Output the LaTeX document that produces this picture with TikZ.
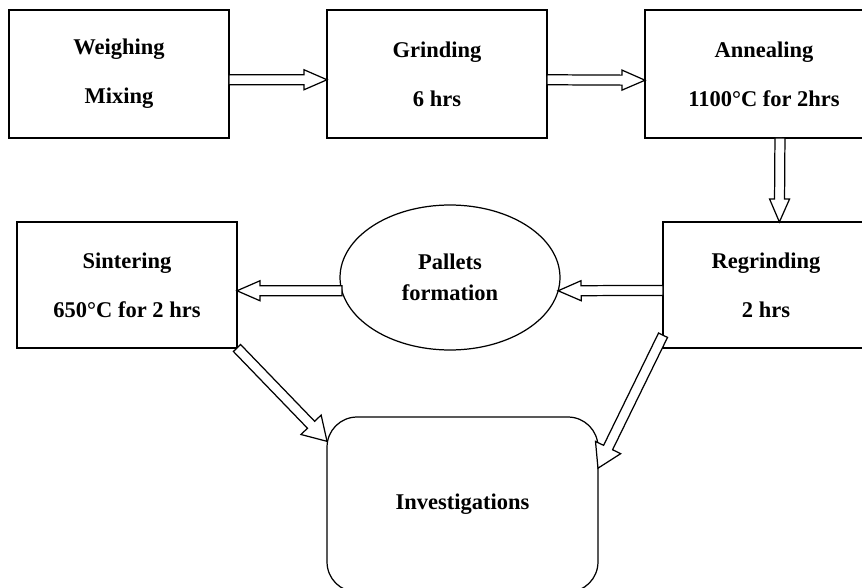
\documentclass[tikz,border=0pt]{standalone}
\usepackage{fontspec}
\setmainfont{Liberation Serif}
\usetikzlibrary{calc,shapes.geometric}

\tikzset{
  stage/.style={draw, line width=0.7pt, inner sep=0pt, outer sep=0pt, align=center,
    font=\bfseries\fontsize{12.8}{28}\selectfont},
  oval/.style={stage, ellipse, font=\bfseries\fontsize{12.8}{17.6}\selectfont},
  hollow/.style={draw, line width=0.7pt, fill=white, line join=miter}
}

% hollow block arrow: [head half width]{from}{to}
\newcommand{\hollowarrow}[3][0.2cm]{%
  \coordinate (ha) at (#2);
  \coordinate (hz) at (#3);
  \coordinate (hb) at ($(hz)!0.46cm!(ha)$);
  \draw[hollow] ($(ha)!0.1cm!90:(hz)$) -- ($(hb)!0.1cm!-90:(ha)$)
    -- ($(hb)!#1!-90:(ha)$) -- (hz) -- ($(hb)!#1!90:(ha)$)
    -- ($(hb)!0.1cm!90:(ha)$) -- ($(ha)!0.1cm!-90:(hz)$) -- cycle;
}

\begin{document}
\begin{tikzpicture}[x=0.02cm, y=-0.02cm]
  \useasboundingbox (0,0) rectangle (862,588);

  \node[stage, minimum width=4.4cm, minimum height=2.56cm] (weigh) at (119,74) {Weighing\\Mixing};
  \node[stage, minimum width=4.4cm, minimum height=2.56cm] (grind) at (437,74) {Grinding\\6 hrs};
  \node[stage, minimum width=4.76cm, minimum height=2.56cm] (anneal) at (764,74) {Annealing\\1100°C for 2hrs};
  \node[stage, minimum width=4.12cm, minimum height=2.52cm] (regrind) at (766,285) {Regrinding\\2 hrs};
  \node[oval, minimum width=4.4cm, minimum height=2.9cm] (pallet) at (450,277.5) {Pallets\\formation};
  \node[stage, minimum width=4.4cm, minimum height=2.52cm] (sinter) at (127,285) {Sintering\\650°C for 2 hrs};
  \node[stage, rounded corners=0.6cm, minimum width=5.42cm, minimum height=3.5cm] (invest) at (462.5,504.5) {Investigations};

  \hollowarrow{weigh.-3.6}{grind.183.6}
  \hollowarrow{grind.-3.6}{anneal.183.6}
  \hollowarrow{anneal.-76.8}{regrind.78.3}
  \hollowarrow{regrind.183.3}{pallet.-7.1}
  \hollowarrow{pallet.187.3}{sinter.-3.6}
  \hollowarrow[0.28cm]{sinter.south east}{invest.155.6}
  \hollowarrow[0.28cm]{regrind.206.8}{invest.15.5}
\end{tikzpicture}
\end{document}
